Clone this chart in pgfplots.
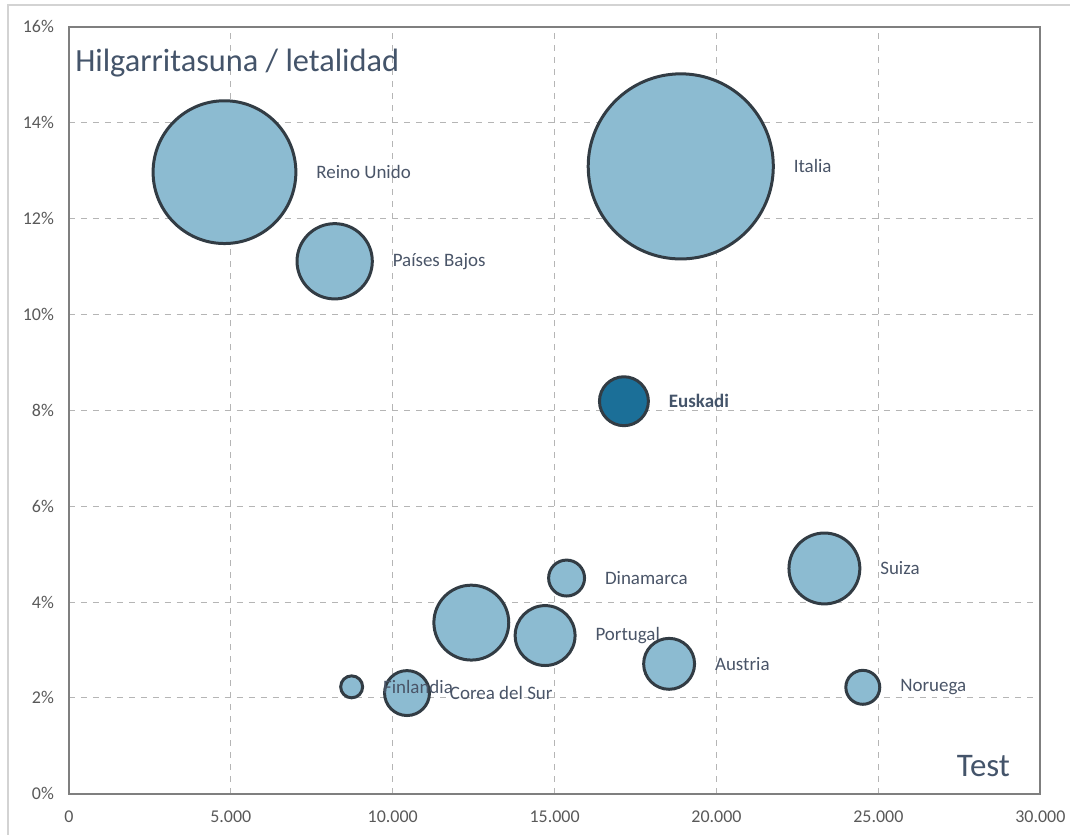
\documentclass[border=0pt]{standalone}
\usepackage{fontspec}
\setmainfont{Carlito}
\usepackage{pgfplots}
\pgfplotsset{compat=1.18}
\definecolor{bub}{HTML}{8CBBD1}
\definecolor{bubedge}{HTML}{323C44}
\definecolor{eus}{HTML}{1B6F98}
\definecolor{gridc}{HTML}{B5B5B5}
\definecolor{framec}{HTML}{7F7F7F}
\definecolor{tickc}{HTML}{595959}
\definecolor{labc}{HTML}{4A5568}
\definecolor{titc}{HTML}{44546A}

% #1 x, #2 y (%), #3 radius (pt), #4 fill, #5 label
\newcommand{\bub}[5]{%
  \addplot[only marks, mark=*, mark size=#3pt,
    mark options={draw=bubedge, fill=#4, line width=1.5pt},
    nodes near coords={#5},
    nodes near coords style={anchor=west, xshift=#3pt+9.5pt, yshift=0pt,
      font=\fontsize{9.5}{11}\selectfont, text=labc, inner sep=0pt}]
    coordinates {(#1,#2)};}

\begin{document}
\begin{tikzpicture}
\begin{axis}[
  name=ax,
  scale only axis,
  width=486.5pt, height=384pt,
  xmin=0, xmax=30000, ymin=0, ymax=16,
  xtick={0,5000,10000,15000,20000,25000,30000},
  xticklabels={0,{5.000},{10.000},{15.000},{20.000},{25.000},{30.000}},
  ytick={0,2,4,6,8,10,12,14,16},
  yticklabels={0\%,2\%,4\%,6\%,8\%,10\%,12\%,14\%,16\%},
  scaled x ticks=false,
  major tick length=0pt,
  grid=major,
  major grid style={gridc, dashed, line width=0.5pt},
  axis line style={framec, line width=0.9pt},
  ticklabel style={font=\fontsize{9}{10}\selectfont, text=tickc},
  xticklabel style={yshift=-5pt},
  yticklabel style={xshift=-4pt},
  clip=false,
]
\bub{4805}{12.97}{35.75}{bub}{Reino Unido}
\bub{18896}{13.09}{46.35}{bub}{Italia}
\bub{8208}{11.11}{18.85}{bub}{Países Bajos}
\bub{23332}{4.70}{17.75}{bub}{Suiza}
\bub{15370}{4.50}{9.0}{bub}{Dinamarca}
\bub{18536}{2.71}{12.75}{bub}{Austria}
\bub{14707}{3.30}{15.0}{bub}{Portugal}
\bub{12428}{3.57}{18.75}{bub}{}
\bub{24518}{2.22}{8.5}{bub}{Noruega}
\bub{10442}{2.10}{11.25}{bub}{Corea del Sur}
\bub{8732}{2.23}{5.5}{bub}{Finlandia}
\addplot[only marks, mark=*, mark size=12.25pt,
    mark options={draw=bubedge, fill=eus, line width=1.5pt},
    nodes near coords={\textbf{Euskadi}},
    nodes near coords style={anchor=west, xshift=12.25pt+9.5pt,
      font=\fontsize{9.5}{11}\selectfont, text=titc, inner sep=0pt}]
    coordinates {(17141,8.19)};
\node[anchor=base west, inner sep=0pt, text=titc, font=\fontsize{16.2}{18}\selectfont]
  at (rel axis cs:0,1) [xshift=3pt, yshift=-22.5pt] {Hilgarritasuna / letalidad};
\node[anchor=base east, inner sep=0pt, text=titc, font=\fontsize{16.5}{18}\selectfont]
  at (rel axis cs:1,0) [xshift=-15pt, yshift=8.5pt] {Test};
\end{axis}
\path[use as bounding box] ([xshift=-34.5pt,yshift=-21.5pt]ax.south west) rectangle ([xshift=15pt,yshift=13.5pt]ax.north east);
\draw[gridc!60, line width=1pt] ([xshift=-30.5pt,yshift=-20.5pt]ax.south west) -- ([xshift=-30.5pt,yshift=11pt]ax.north west) -- ([xshift=15pt,yshift=11pt]ax.north east);
\end{tikzpicture}
\end{document}
